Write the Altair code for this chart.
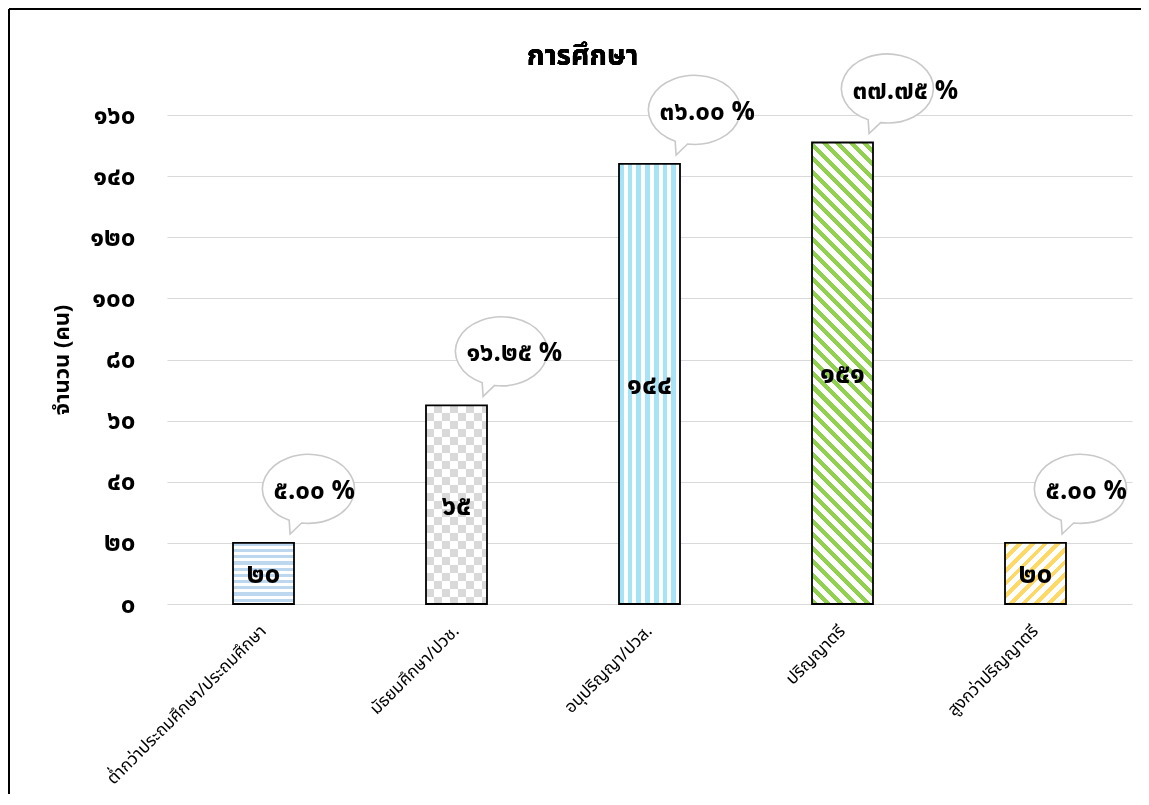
import math
import altair as alt
import pandas as pd

# ---------------- data ----------------
categories = [
    "ต่ำกว่าประถมศึกษา/ประถมศึกษา",
    "มัธยมศึกษา/ปวช.",
    "อนุปริญญา/ปวส.",
    "ปริญญาตรี",
    "สูงกว่าปริญญาตรี",
]
counts = [20, 65, 144, 151, 20]
count_labels = ["๒๐", "๖๕", "๑๔๔", "๑๕๑", "๒๐"]
percent_labels = ["๕.๐๐ %", "๑๖.๒๕ %", "๓๖.๐๐ %", "๓๗.๗๕ %", "๕.๐๐ %"]
y_ticks = [0, 20, 40, 60, 80, 100, 120, 140, 160]
y_tick_labels = ["๐", "๒๐", "๔๐", "๖๐", "๘๐", "๑๐๐", "๑๒๐", "๑๔๐", "๑๖๐"]
chart_title = "การศึกษา"
y_title = "จำนวน (คน)"

# ---------------- layout / style ----------------
W, H = 965, 489
Y_MAX = 160
STEP = W / len(categories)
BAR_W = 61
PAD_INNER = 1 - BAR_W / STEP
FONT = "Noto Sans Thai, Noto Sans, DejaVu Sans, sans-serif"


def stripe_stops(length, period, frac, c1, c2="#ffffff"):
    stops = []
    p = 0.0
    while p < length:
        a = p / length
        b = min((p + frac * period) / length, 1.0)
        c = min((p + period) / length, 1.0)
        stops += [{"offset": a, "color": c1}, {"offset": b, "color": c1}]
        if b < 1.0:
            stops += [{"offset": b, "color": c2}, {"offset": c, "color": c2}]
        p += period
    return stops


def bar_h(v):
    return v * H / Y_MAX


def horiz(h, period, frac, c1, c2="#ffffff"):
    return {"gradient": "linear", "x1": 0, "y1": 0, "x2": 0, "y2": 1,
            "stops": stripe_stops(h, period, frac, c1, c2)}


def vert(w, period, frac, c1, c2="#ffffff"):
    return {"gradient": "linear", "x1": 0, "y1": 0, "x2": 1, "y2": 0,
            "stops": stripe_stops(w, period, frac, c1, c2)}


def diag(w, h, period, frac, c1, back=True):
    k = (w + h) / (w * w + h * h)
    length = (w + h) / math.sqrt(2)
    if back:  # "\" stripes
        g = {"x1": 0, "y1": 1, "x2": k * w, "y2": 1 - k * h}
    else:  # "/" stripes
        g = {"x1": 0, "y1": 0, "x2": k * w, "y2": k * h}
    g.update({"gradient": "linear", "stops": stripe_stops(length, period, frac, c1)})
    return g


df = pd.DataFrame({
    "category": categories,
    "count": counts,
    "count_label": count_labels,
    "pct_label": percent_labels,
    "idx": list(range(len(categories))),
})

label_expr = "[" + ",".join(f"'{t}'" for t in y_tick_labels) + "][round(datum.value / 20)]"

X_AXIS = alt.Axis(labelAngle=-45, labelAlign="right", labelBaseline="middle",
                  labelFont=FONT, labelFontSize=17, labelColor="#000000",
                  labelPadding=24, domain=False, ticks=False, labelLimit=400,
                  title=None)
Y_AXIS = alt.Axis(values=y_ticks, labelExpr=label_expr, labelFont=FONT,
                  labelFontSize=26, labelFontWeight="bold", labelColor="#000000",
                  labelPadding=32, domain=False, ticks=False,
                  gridColor="#d9d9d9", gridWidth=1.2, title=y_title,
                  titleFont=FONT, titleFontSize=22, titleFontWeight="bold",
                  titleColor="#000000", titlePadding=16)
X_SCALE = alt.Scale(paddingInner=PAD_INNER, paddingOuter=PAD_INNER / 2)
Y_SCALE = alt.Scale(domain=[0, Y_MAX], nice=False)


def xenc():
    return alt.X("category:N", sort=categories, scale=X_SCALE, axis=X_AXIS, title=None)


def yenc(field="count"):
    return alt.Y(f"{field}:Q", scale=Y_SCALE, axis=Y_AXIS, title=y_title)


base = alt.Chart(df)

fills = {
    0: horiz(bar_h(counts[0]), 6.2, 0.5, "#bdd7ee"),
    2: vert(BAR_W, 8.7, 0.55, "#a6e3f5"),
    3: diag(BAR_W, bar_h(counts[3]), 9.5, 0.45, "#92d050", back=True),
    4: diag(BAR_W, bar_h(counts[4]), 9.0, 0.45, "#ffd966", back=False),
}

layers = []
for i, g in fills.items():
    layers.append(
        base.transform_filter(f"datum.idx == {i}")
        .mark_bar(fill=g, strokeWidth=0)
        .encode(x=xenc(), y=yenc())
    )

# checkerboard for bar 2 (XOR of two stripe layers via difference blending)
d = "#262626"
layers.append(
    base.transform_filter("datum.idx == 1")
    .mark_bar(fill=vert(BAR_W, 16.0, 0.5, "#000000", d), strokeWidth=0)
    .encode(x=xenc(), y=yenc())
)
layers.append(
    base.transform_filter("datum.idx == 1")
    .mark_bar(fill=horiz(bar_h(counts[1]), 16.0, 0.5, "#000000", d), strokeWidth=0,
              blend="difference")
    .encode(x=xenc(), y=yenc())
)
layers.append(
    base.transform_filter("datum.idx == 1")
    .mark_bar(fill="#ffffff", strokeWidth=0, blend="difference")
    .encode(x=xenc(), y=yenc())
)

# outlines
layers.append(
    base.mark_bar(fillOpacity=0, stroke="#000000", strokeWidth=1.8)
    .encode(x=xenc(), y=yenc())
)

# in-bar count labels
layers.append(
    base.transform_calculate(half="datum.count / 2")
    .mark_text(font=FONT, fontSize=28, fontWeight="bold", color="#000000",
               baseline="middle", dy=2)
    .encode(x=xenc(), y=yenc("half"), text="count_label:N")
)

# callout bubbles
bubble_path = ("M -0.15 0.7415 L -0.40 0.98 L -0.42 0.681 "
               "A 1 0.75 0 1 1 -0.15 0.7415 Z")
layers.append(
    base.mark_point(shape=bubble_path, size=92 * 92, filled=True, fill="#ffffff",
                    stroke="#c9c9c9", strokeWidth=1.6, opacity=1, fillOpacity=1,
                    xOffset=45, yOffset=-54)
    .encode(x=xenc(), y=yenc())
)
layers.append(
    base.mark_text(font=FONT, fontSize=26, fontWeight="bold", color="#000000",
                   align="left", baseline="middle", dx=10, dy=-52)
    .encode(x=xenc(), y=yenc(), text="pct_label:N")
)

# chart title (as a text mark so the outer frame does not push it away)
layers.append(
    base.mark_text(font=FONT, fontSize=28, fontWeight="bold", color="#000000",
                   align="center", baseline="middle")
    .encode(x=alt.value(W / 2 - 67), y=alt.value(-58), text=alt.value(chart_title))
)

# outer frame (left + top edges)
layers.append(
    base.mark_rule(color="#000000", strokeWidth=2)
    .encode(x=alt.value(-158), y=alt.value(-106), y2=alt.value(H + 200))
)
layers.append(
    base.mark_rule(color="#000000", strokeWidth=2)
    .encode(x=alt.value(-158), x2=alt.value(W + 20), y=alt.value(-106))
)

chart = (
    alt.layer(*layers)
    .properties(
        width=W, height=H,
        autosize=alt.AutoSizeParams(type="none"),
        padding={"left": 159, "top": 107, "right": 9, "bottom": 190},
        background="#ffffff",
    )
    .configure_view(strokeWidth=0)
)

chart.save("out.html", embed_options={"renderer": "svg", "actions": False})
